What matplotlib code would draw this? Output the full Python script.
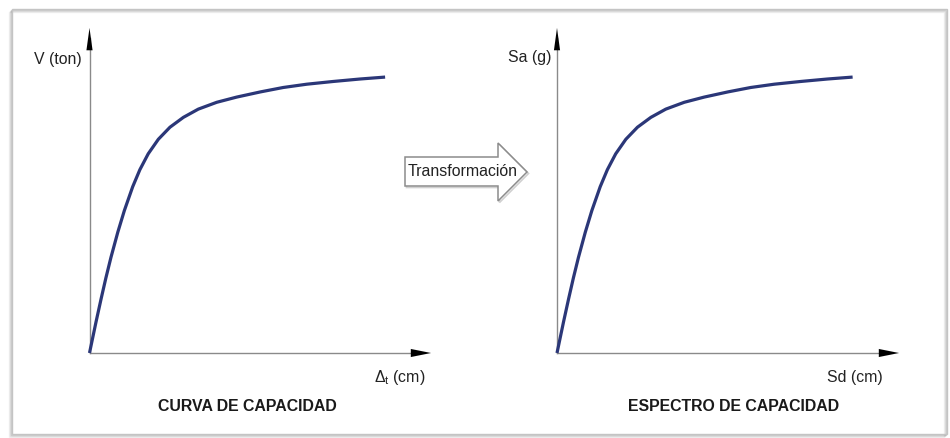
import matplotlib
matplotlib.use("Agg")
import matplotlib.pyplot as plt
from matplotlib import font_manager
from matplotlib.patches import Polygon, Rectangle

# ---------------- data ----------------
disp_cm = [0, 0.22, 0.39, 0.55, 0.72, 0.95, 1.17, 1.45, 1.69, 1.97, 2.31, 2.70,
           3.15, 3.65, 4.27, 4.94, 5.74, 6.50, 7.29, 8.18, 9.08, 9.92]
shear_ton = [0, 1.14, 1.98, 2.74, 3.49, 4.41, 5.20, 6.07, 6.69, 7.27, 7.80, 8.24,
             8.60, 8.90, 9.15, 9.34, 9.53, 9.69, 9.81, 9.91, 10.00, 10.07]
sd_cm = [0, 0.22, 0.39, 0.55, 0.72, 0.95, 1.17, 1.45, 1.69, 1.97, 2.31, 2.70,
         3.15, 3.65, 4.27, 4.94, 5.74, 6.50, 7.29, 8.18, 9.08, 9.92]
sa_g = [0, 1.14, 1.98, 2.74, 3.49, 4.41, 5.20, 6.07, 6.69, 7.27, 7.80, 8.24,
        8.60, 8.90, 9.15, 9.34, 9.53, 9.69, 9.81, 9.91, 10.00, 10.07]
panel_titles = ["CURVA DE CAPACIDAD", "ESPECTRO DE CAPACIDAD"]
x_labels = ["Δ$_t$ (cm)", "Sd (cm)"]
y_labels = ["V (ton)", "Sa (g)"]
arrow_label = "Transformación"

# ---------------- fonts ----------------
available = {f.name for f in font_manager.fontManager.ttflist}
FONT, FS = "DejaVu Sans", 10.5
for fam, size in [("Liberation Sans Narrow", 13.5), ("Liberation Sans", 11.4)]:
    if fam in available:
        FONT, FS = fam, size
        break
plt.rcParams["font.family"] = [FONT, "DejaVu Sans"]
plt.rcParams["mathtext.fontset"] = "custom"
plt.rcParams["mathtext.rm"] = FONT
plt.rcParams["mathtext.it"] = FONT
plt.rcParams["mathtext.default"] = "regular"

W, H = 950, 438
fig = plt.figure(figsize=(W / 100, H / 100), dpi=100)
fig.patch.set_facecolor("white")

TXT = "#222222"
AXC = "#8a8a8a"
CURVE = "#2b3778"


def fx(px):
    return px / W


def fy(py):
    return (H - py) / H


# ---------------- outer frame with shadow ----------------
for off, a in [(3, 0.06), (2, 0.10), (1, 0.18)]:
    fig.add_artist(Rectangle((fx(12 - off), fy(434 + off)), fx(947 - 12), (434 - 9) / H,
                             transform=fig.transFigure, fill=False, ec="#000000",
                             alpha=a, lw=1.0))
fig.add_artist(Rectangle((fx(12), fy(434)), fx(947 - 12), (434 - 9) / H,
                         transform=fig.transFigure, fill=False, ec="#c4c4c4", lw=1.0))

# ---------------- panels ----------------
panels = [
    dict(ox=89.5, tip=431, xs=disp_cm, ys=shear_ton, xl=x_labels[0], yl=y_labels[0],
         title=panel_titles[0], yl_x=-0.25, yl_y=10.7, xl_x=10.42, t_x=5.29),
    dict(ox=557, tip=899, xs=sd_cm, ys=sa_g, xl=x_labels[1], yl=y_labels[1],
         title=panel_titles[1], yl_x=-0.2, yl_y=10.77, xl_x=9.98, t_x=5.91),
]
oy, top = 353, 28
ux, uy = 29.8, 27.4  # pixels per data unit

for p in panels:
    ax = fig.add_axes([fx(p["ox"]), fy(oy), (p["tip"] - p["ox"]) / W, (oy - top) / H])
    xmax = (p["tip"] - p["ox"]) / ux
    ymax = (oy - top) / uy
    ax.set_xlim(0, xmax)
    ax.set_ylim(0, ymax)
    ax.set_axis_off()
    # axis lines
    ax.plot([0, xmax * 0.97], [0, 0], color=AXC, lw=1.0, clip_on=False, zorder=1)
    ax.plot([0, 0], [0, ymax * 0.97], color=AXC, lw=1.0, clip_on=False, zorder=1)
    # arrow heads
    ax.annotate("", xy=(xmax, 0), xytext=(-15.5, 0), textcoords="offset points",
                xycoords="data",
                arrowprops=dict(arrowstyle="-|>,head_length=1.45,head_width=0.29",
                                mutation_scale=10, color="black", lw=0.01,
                                shrinkA=0, shrinkB=0), annotation_clip=False)
    ax.annotate("", xy=(0, ymax), xytext=(0, -17), textcoords="offset points",
                xycoords="data",
                arrowprops=dict(arrowstyle="-|>,head_length=1.6,head_width=0.22",
                                mutation_scale=10, color="black", lw=0.01,
                                shrinkA=0, shrinkB=0), annotation_clip=False)
    # curve
    ax.plot(p["xs"], p["ys"], color=CURVE, lw=2.3, solid_capstyle="butt",
            solid_joinstyle="round", clip_on=False, zorder=3)
    # labels
    ax.text(p["yl_x"], p["yl_y"], p["yl"], ha="right", va="center", fontsize=FS,
            color=TXT, clip_on=False)
    ax.text(p["xl_x"], -0.88, p["xl"], ha="center", va="center", fontsize=FS,
            color=TXT, clip_on=False)
    ax.text(p["t_x"], -1.97, p["title"], ha="center", va="center", fontsize=FS,
            fontweight="bold", color="#1a1a1a", clip_on=False)

# ---------------- transformation block arrow ----------------
pts = [(405, 157), (498, 157), (498, 143), (527, 172), (498, 201), (498, 186), (405, 186)]
shadow = Polygon([(fx(x + 1.5), fy(y + 1.5)) for x, y in pts], closed=True,
                 transform=fig.transFigure, fc="none", ec="#d0d0d0", lw=1.2)
fig.add_artist(shadow)
blk = Polygon([(fx(x), fy(y)) for x, y in pts], closed=True,
              transform=fig.transFigure, fc="white", ec="#8c8c8c", lw=1.1)
fig.add_artist(blk)
fig.text(fx(463), fy(171.5), arrow_label, ha="center", va="center", fontsize=FS,
         color=TXT)

fig.savefig("out.png", dpi=100, facecolor="white")
